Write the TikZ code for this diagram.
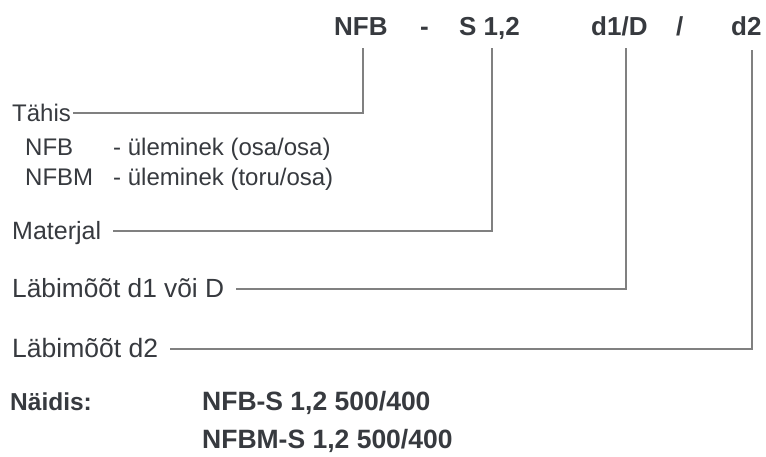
\documentclass[tikz,border=0pt]{standalone}
\usepackage{fontspec}
\setmainfont{Liberation Sans}
\definecolor{txt}{RGB}{55,58,63}
\definecolor{ln}{RGB}{128,128,128}
\begin{document}
\begin{tikzpicture}[x=1pt,y=-1pt,
  lab/.style={font=\fontsize{25}{28}\selectfont, text=txt, inner sep=0pt, anchor=west, text height=17pt, text depth=0pt},
  sub/.style={font=\fontsize{24}{28}\selectfont, text=txt, inner sep=0pt, anchor=base west},
  hd/.style={font=\fontsize{26}{30}\selectfont\bfseries, text=txt, inner sep=0pt, anchor=base west},
  conn/.style={draw=ln, line width=1.7pt}]
\useasboundingbox[fill=white] (0,0) rectangle (766,456);
% code parts
\node[hd] (nfb) at (334,35) {NFB};
\node[hd] (dash) at (420,35) {-};
\node[hd] (s12) at (459,35) {S 1,2};
\node[hd] (d1d) at (591,35) {d1/D};
\node[hd] (sl) at (676,35) {/};
\node[hd] (d2) at (731,35) {d2};
\coordinate (t1) at (363,48);
\coordinate (t2) at (492,48);
\coordinate (t3) at (626,48);
\coordinate (t4) at (752,50);
% labels
\node[lab, font=\fontsize{24}{28}\selectfont] (tahis) at (12,113) {Tähis};
\node[sub] (nfbA) at (25,155) {NFB};
\node[sub] (nfbAt) at (113,155) {- üleminek (osa/osa)};
\node[sub] (nfbB) at (25,185) {NFBM};
\node[sub] (nfbBt) at (113,185) {- üleminek (toru/osa)};
\node[lab] (mat) at (12,231) {Materjal};
\node[lab, font=\fontsize{26.3}{30}\selectfont] (lab1) at (12,289) {Läbimõõt d1 või D};
\node[lab, font=\fontsize{26.5}{30}\selectfont] (lab2) at (12,349) {Läbimõõt d2};
% connectors
\draw[conn] ([xshift=2pt]tahis.east) -| (t1);
\draw[conn] ([xshift=12pt]mat.east) -| (t2);
\draw[conn] ([xshift=12pt]lab1.east) -| (t3);
\draw[conn] ([xshift=12pt]lab2.east) -| (t4);
% example
\node[hd, font=\fontsize{24.5}{30}\selectfont\bfseries] (naid) at (10,410) {Näidis:};
\node[hd, font=\fontsize{26.5}{30}\selectfont\bfseries] (ex1) at (202,410) {NFB-S 1,2 500/400};
\node[hd, font=\fontsize{26.5}{30}\selectfont\bfseries] (ex2) at (202,448) {NFBM-S 1,2 500/400};
\end{tikzpicture}
\end{document}
